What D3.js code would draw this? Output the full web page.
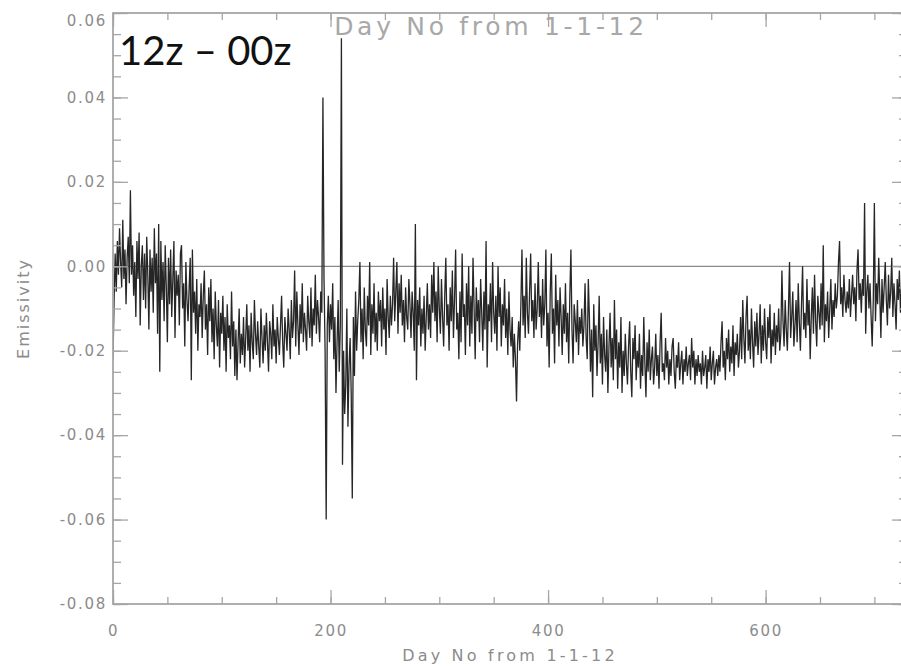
<!DOCTYPE html>
<html>
<head>
<meta charset="utf-8">
<script src="https://cdn.jsdelivr.net/npm/d3@7"></script>
<style>
  body { margin: 0; background: #fff; }
  svg { display: block; }
</style>
</head>
<body>
<script>
// daily emissivity difference 12z - 00z, day 0 = 1-1-12 (values in units of 0.001)
const emissivityMilli = [
  -22,-8,3,-6,6,-2,9,1,-5,11,-3,4,-9,2,7,-4,18,-2,5,-7,
  1,-12,6,-3,8,-14,0,5,-8,3,-10,7,-2,-15,4,-6,2,-11,9,-4,
  3,-16,10,-25,6,-8,1,-13,5,-5,-18,2,-9,4,-12,-3,6,-17,-1,-7,
  -2,-14,3,5,-10,-4,-19,1,-8,-13,-5,2,-27,4,-11,-6,-16,-3,-20,-9,
  -12,-4,-17,-7,-1,-15,-9,-21,-5,-13,-3,-18,-10,-22,-6,-14,-19,-8,-24,-11,
  -16,-7,-20,-12,-25,-9,-17,-14,-22,-6,-19,-13,-26,-15,-27,-18,-10,-23,-16,-21,
  -12,-24,-17,-9,-20,-14,-25,-11,-18,-22,-8,-16,-21,-13,-19,-24,-10,-17,-23,-14,
  -20,-11,-18,-25,-13,-16,-22,-9,-19,-15,-23,-12,-17,-21,-14,-7,-18,-24,-12,-16,
  -20,-10,-15,-22,-8,-17,-13,-1,-19,-6,-14,-21,-9,-16,-4,-18,-11,-15,-20,-7,
  -13,-17,-5,-19,-10,-14,-2,-16,-8,-12,-18,-6,-11,40,-3,-20,-60,-14,-7,-18,
  -9,-15,-4,-22,-12,-30,-18,-8,-25,-14,54,-47,-20,-35,-28,-10,-38,-24,-17,-30,
  -55,-12,-26,-6,-20,-13,-8,1,-18,-10,-22,-5,-15,-19,-7,-14,1,-21,-9,-16,
  -4,-18,-11,-20,-6,-13,-8,-19,-5,-15,-10,-21,-3,-12,-17,-7,-14,-9,2,-13,
  -6,1,-16,-4,-11,-2,-14,-8,-18,-5,-12,-15,-3,-9,-17,-6,-11,-20,10,-27,
  -8,-14,-5,-19,-10,-16,-7,-20,-12,-4,-15,-9,-17,-2,-11,1,-13,-6,-18,0,
  -10,-16,-3,-12,-19,-7,2,-14,-9,-20,-5,-13,-1,-17,-8,4,-15,-11,-22,-6,
  -18,3,-12,-9,-21,-4,-14,0,-19,-7,-16,2,-10,-22,-5,-13,-8,-18,-3,-11,
  -20,-6,-15,6,-24,-9,-13,-4,-18,1,-11,-16,-7,-20,0,-12,-5,-19,-9,-14,
  -3,-17,-10,-21,-6,-15,-19,-12,-24,-16,-22,-32,-18,-13,-20,-9,4,-14,-7,-17,
  2,-11,-16,-6,3,-13,-8,-17,-4,-15,-10,1,-12,-7,-17,-3,-14,-9,4,-19,
  -11,-24,-6,3,-16,-10,-23,-2,-14,-8,-19,-5,-12,-21,-9,-16,-4,-18,-11,-23,
  -7,4,-15,-23,-9,-13,-18,-8,-21,-12,-16,-10,-19,-14,-4,-17,-22,-3,-12,-25,
  -15,-31,-9,-20,-14,-26,-18,-7,-23,-16,-28,-12,-21,-25,-15,-30,-19,-11,-24,-17,
  -27,-8,-22,-15,-29,-18,-24,-12,-30,-20,-26,-16,-23,-28,-19,-13,-25,-31,-17,-22,
  -14,-27,-20,-24,-16,-29,-21,-26,-12,-23,-31,-18,-25,-15,-27,-22,-19,-28,-24,-16,
  -26,-21,-29,-18,-11,-25,-23,-27,-17,-24,-20,-28,-22,-26,-19,-17,-25,-29,-21,-24,
  -18,-27,-23,-20,-28,-22,-25,-19,-26,-23,-21,-27,-17,-24,-20,-28,-22,-26,-21,-25,
  -23,-28,-20,-26,-24,-21,-29,-22,-25,-19,-27,-23,-20,-28,-24,-22,-26,-21,-25,-18,
  -13,-24,-20,-27,-17,-22,-15,-25,-19,-23,-14,-26,-18,-21,-16,-24,-20,-12,-22,-8,
  -17,-23,-12,-7,-20,-15,-22,-10,-18,-24,-13,-19,-11,-21,-16,-9,-23,-14,-20,-10,
  -18,-22,-12,-17,-9,-23,-15,-19,-11,-21,-14,-18,-10,-20,-16,-1,-13,-19,-8,-15,
  -20,-10,1,-17,-12,-6,-19,-14,-8,-18,-4,-13,-20,-9,0,-15,-11,-17,-3,-14,
  -8,-22,-12,-5,-16,-2,-13,-19,-7,-11,-15,-4,-14,5,-18,-9,-13,-6,-17,-10,
  -3,-15,-8,-12,-4,-10,-7,1,6,-9,-5,-12,-2,-8,-11,-6,-10,-3,-12,-7,
  -2,-9,-5,-13,-1,4,-8,-4,-11,-3,-7,15,-16,-6,-2,-10,-4,-12,-19,-8,
  15,-13,-4,-9,2,-7,-17,-3,-11,-5,1,-8,-14,-2,-10,-6,2,-12,-4,-9,
  -15,-3,-8,-1,-11,-5,-7,-2,-9,-4,-6
];

const xMajorTicks = [0, 200, 400, 600];
const yMajorTicks = [-0.08, -0.06, -0.04, -0.02, 0.00, 0.02, 0.04, 0.06];
const yTickLabels = ["-0.08", "-0.06", "-0.04", "-0.02", "0.00", "0.02", "0.04", "0.06"];
const xTitle = "Day No from 1-1-12";
const yTitle = "Emissivity";
const panelLabel = "12z \u2013 00z";

const width = 901, height = 666;
const plot = { left: 113, right: 907, top: 13, bottom: 604 };
const axisGrey = "#a6a6a6", textGrey = "#8c8c8c";

const svg = d3.select("body").append("svg")
    .attr("width", width)
    .attr("height", height);

svg.append("rect").attr("width", width).attr("height", height).attr("fill", "#fff");

const x = d3.scaleLinear().domain([0, 730]).range([plot.left, plot.right]);
const y = d3.scaleLinear().domain([-0.08, 0.06]).range([plot.bottom, plot.top]);

const xMinor = d3.range(0, 731, 50);
const yMinor = d3.range(-80, 61, 5).map(v => v / 1000);

svg.append("clipPath").attr("id", "plot")
    .append("rect")
    .attr("x", plot.left).attr("y", plot.top)
    .attr("width", plot.right - plot.left).attr("height", plot.bottom - plot.top);

// zero line
svg.append("line")
    .attr("x1", plot.left).attr("x2", plot.right)
    .attr("y1", y(0)).attr("y2", y(0))
    .attr("stroke", "#8a8a8a")
    .attr("stroke-width", 1.2);

// data
const line = d3.line()
    .x((d, i) => x(i))
    .y(d => y(d / 1000));

svg.append("path")
    .datum(emissivityMilli)
    .attr("clip-path", "url(#plot)")
    .attr("d", line)
    .attr("fill", "none")
    .attr("stroke", "#262626")
    .attr("stroke-width", 1.3)
    .attr("stroke-linejoin", "miter");

// axes: major and minor ticks on all four sides, pointing inwards
function styleAxis(g) {
    g.select(".domain").remove();
    g.selectAll(".tick line").attr("stroke", axisGrey).attr("stroke-width", 1.3);
    g.selectAll(".tick text")
        .attr("fill", textGrey)
        .style("font-family", "DejaVu Sans")
        .style("font-size", "15px")
        .style("letter-spacing", "1.7px");
}

svg.append("g").attr("transform", `translate(0,${plot.bottom})`)
    .call(d3.axisBottom(x).tickValues(xMinor).tickSize(-7).tickFormat(""))
    .call(styleAxis);
svg.append("g").attr("transform", `translate(0,${plot.bottom})`)
    .call(d3.axisBottom(x).tickValues(xMajorTicks).tickSize(-14).tickPadding(21).tickFormat(d3.format("d")))
    .call(styleAxis);

svg.append("g").attr("transform", `translate(0,${plot.top})`)
    .call(d3.axisTop(x).tickValues(xMinor).tickSize(-7).tickFormat(""))
    .call(styleAxis);
svg.append("g").attr("transform", `translate(0,${plot.top})`)
    .call(d3.axisTop(x).tickValues(xMajorTicks).tickSize(-14).tickFormat(""))
    .call(styleAxis);

svg.append("g").attr("transform", `translate(${plot.left},0)`)
    .call(d3.axisLeft(y).tickValues(yMinor).tickSize(-8).tickFormat(""))
    .call(styleAxis);
const yAxis = svg.append("g").attr("transform", `translate(${plot.left},0)`)
    .call(d3.axisLeft(y).tickValues(yMajorTicks).tickSize(-15).tickPadding(6)
        .tickFormat((d, i) => yTickLabels[i]))
    .call(styleAxis);
// top label sits just below the corner, as in the original
yAxis.selectAll(".tick text").filter(d => d === 0.06).attr("y", 8);

svg.append("g").attr("transform", `translate(${plot.right},0)`)
    .call(d3.axisRight(y).tickValues(yMinor).tickSize(-8).tickFormat(""))
    .call(styleAxis);
svg.append("g").attr("transform", `translate(${plot.right},0)`)
    .call(d3.axisRight(y).tickValues(yMajorTicks).tickSize(-15).tickFormat(""))
    .call(styleAxis);

// frame
svg.append("rect")
    .attr("x", plot.left).attr("y", plot.top)
    .attr("width", plot.right - plot.left).attr("height", plot.bottom - plot.top)
    .attr("fill", "none")
    .attr("stroke", axisGrey)
    .attr("stroke-width", 1.8);

// titles
svg.append("text")
    .attr("x", 510).attr("y", 661)
    .attr("text-anchor", "middle")
    .attr("fill", textGrey)
    .style("font-family", "DejaVu Sans")
    .style("font-size", "16px")
    .style("letter-spacing", "3.2px")
    .text(xTitle);

svg.append("text")
    .attr("x", 491).attr("y", 35)
    .attr("text-anchor", "middle")
    .attr("fill", "#a8a8a8")
    .style("font-family", "DejaVu Sans")
    .style("font-size", "25px")
    .style("letter-spacing", "3.7px")
    .text(xTitle);

svg.append("text")
    .attr("transform", `translate(29,${(plot.top + plot.bottom) / 2}) rotate(-90)`)
    .attr("text-anchor", "middle")
    .attr("fill", textGrey)
    .style("font-family", "DejaVu Sans")
    .style("font-size", "16px")
    .style("letter-spacing", "2px")
    .text(yTitle);

svg.append("text")
    .attr("x", 119).attr("y", 65)
    .attr("fill", "#111")
    .style("font-family", "Lato")
    .style("font-size", "40px")
    .text(panelLabel);
</script>
</body>
</html>
